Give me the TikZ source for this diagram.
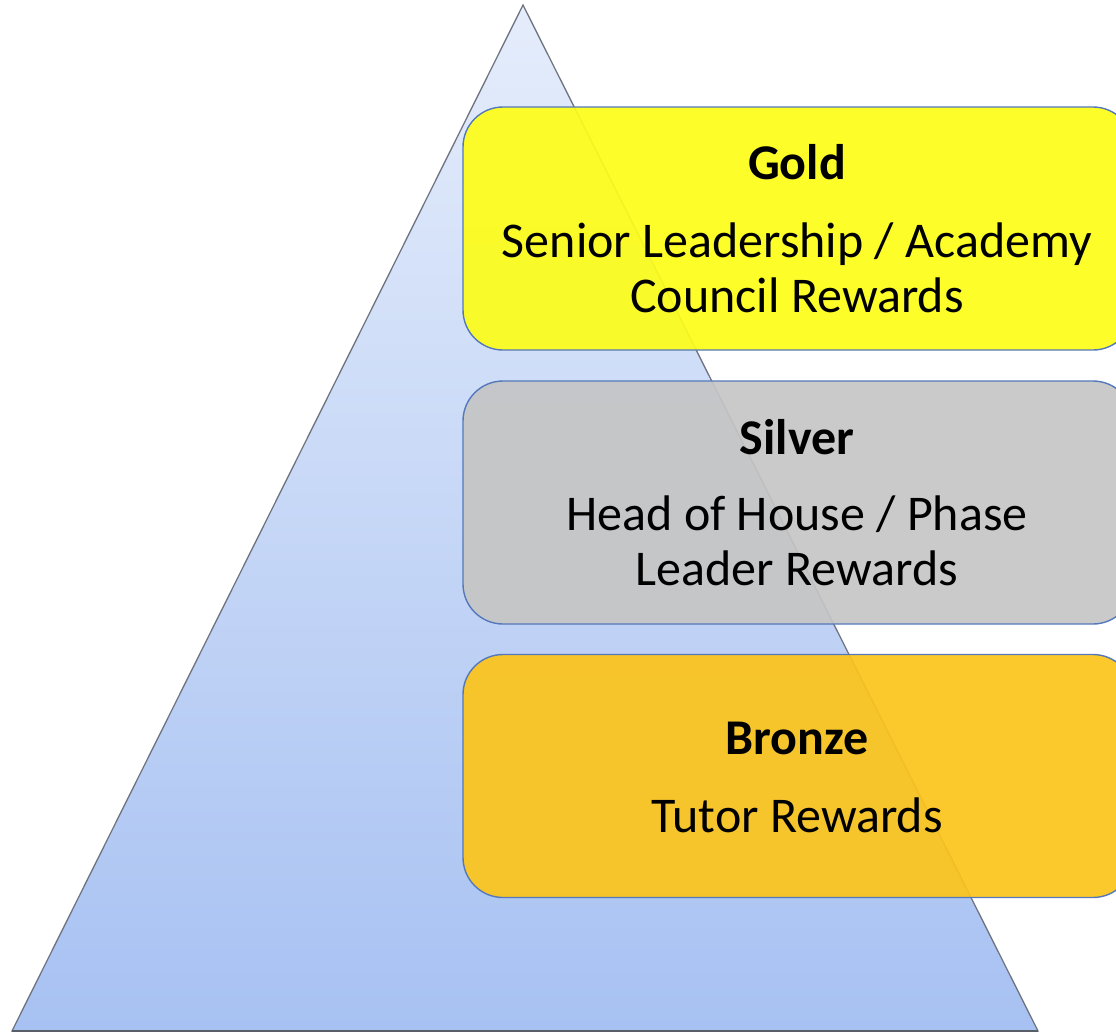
\documentclass[tikz,border=0pt]{standalone}
\usepackage{fontspec}
\setmainfont{Carlito}
\begin{document}
\begin{tikzpicture}[x=1pt,y=-1pt,
  tier/.style={draw=boxblue, line width=1.4pt, rounded corners=40pt,
    fill opacity=0.92, draw opacity=1, text opacity=1,
    minimum width=670pt, minimum height=243pt, inner sep=0pt},
  ttl/.style={font=\fontsize{50}{55}\selectfont\bfseries, inner sep=0pt, anchor=center},
  txt/.style={font=\fontsize{50}{55}\selectfont, inner sep=0pt, align=center, anchor=center}]
\definecolor{boxblue}{RGB}{84,120,186}
\definecolor{tritop}{RGB}{229,237,251}
\definecolor{tribot}{RGB}{167,193,242}
\definecolor{triedge}{RGB}{110,116,128}
\definecolor{goldc}{RGB}{253,253,24}
\definecolor{silverc}{RGB}{197,197,197}
\definecolor{bronzec}{RGB}{252,196,26}
\useasboundingbox (0,0) rectangle (1116,1034);
\coordinate (apex) at (523,5);
\coordinate (bl) at (12,1031);
\coordinate (br) at (1038,1031);
\shade[top color=tritop, bottom color=tribot] (apex) -- (br) -- (bl) -- cycle;
\draw[triedge, line width=1.3pt, line join=miter] (apex) -- (br) -- (bl) -- cycle;
\draw[triedge!80!black, line width=2pt] (bl) -- (br);
\node[tier, fill=goldc] (gold) at (798,228.5) {};
\node[tier, fill=silverc] (silver) at (798,502.5) {};
\node[tier, fill=bronzec] (bronze) at (798,776) {};
\node[ttl] (goldt) at (797,162) {Gold};
\node[txt] (goldx) at (797,268) {Senior Leadership / Academy\\Council Rewards};
\node[ttl] (silvert) at (797,437) {Silver};
\node[txt] (silverx) at (797,541) {Head of House / Phase\\Leader Rewards};
\node[ttl] (bronzet) at (797,738) {Bronze};
\node[txt] (bronzex) at (797,815) {Tutor Rewards};
\end{tikzpicture}
\end{document}
